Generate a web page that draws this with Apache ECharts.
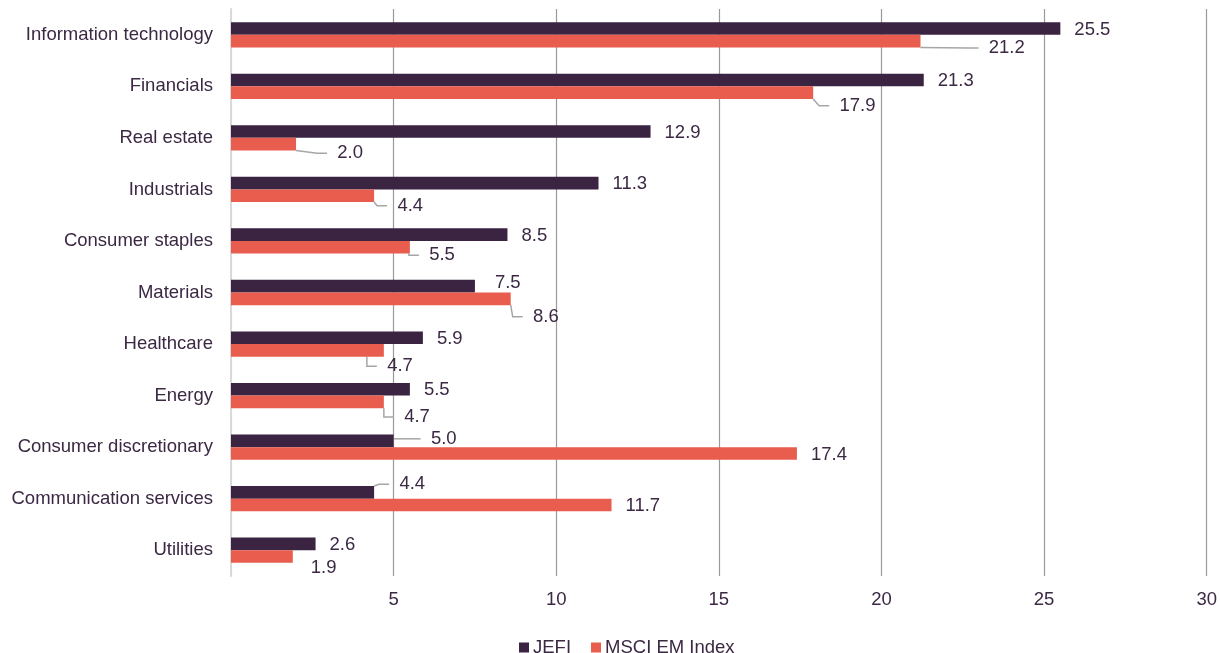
<!DOCTYPE html>
<html>
<head>
<meta charset="utf-8">
<script src="https://cdn.jsdelivr.net/npm/echarts@6/dist/echarts.min.js"></script>
<style>
html,body{margin:0;padding:0;background:#fff;}
#chart{width:1220px;height:653px;}
</style>
</head>
<body>
<div id="chart"></div>
<script>
const categories = ["Information technology","Financials","Real estate","Industrials","Consumer staples","Materials","Healthcare","Energy","Consumer discretionary","Communication services","Utilities"];
const jefi = [25.5, 21.3, 12.9, 11.3, 8.5, 7.5, 5.9, 5.5, 5.0, 4.4, 2.6];
const msci = [21.2, 17.9, 2.0, 4.4, 5.5, 8.6, 4.7, 4.7, 17.4, 11.7, 1.9];
const seriesNames = ["JEFI", "MSCI EM Index"];
const xTicks = [0, 5, 10, 15, 20, 25, 30];

// label displacement (layout only): [dx, dy, showLeader]
const jefiShift = {5: [6, -3, false], 8: [23, -2, true], 9: [11, -8, true]};
const msciShift = {0: [54, 7, true], 1: [12, 13, true], 2: [27, 9, true], 3: [9, 10, true], 4: [5, 8, true], 5: [8, 18, true], 6: [-11, 16, true], 7: [6, 15, true], 10: [4, 11, false]};
const leaderGap = 10; // width of the two leading spaces

const textColor = '#3b2843';
const font = 'Liberation Sans, Arial, sans-serif';
const fs = 18.5;

function buildData(vals, shifts) {
  return vals.map((v, i) => {
    const s = shifts[i];
    return {value: v, labelLine: {show: !!(s && s[2])}};
  });
}
function layoutFor(shifts) {
  return function (p) {
    const s = shifts[p.dataIndex];
    if (!s) return {dy: 1};
    return {dx: s[0] - (s[2] ? leaderGap : 0), dy: s[1]};
  };
}
function fmtFor(shifts) {
  return function (p) {
    const s = shifts[p.dataIndex];
    const t = p.value.toFixed(1);
    return (s && s[2]) ? '  ' + t : t;
  };
}

const chart = echarts.init(document.getElementById('chart'), null, {renderer: 'canvas'});
function labelFor(shifts) {
  return {
    show: true,
    position: 'right',
    distance: 14,
    color: textColor,
    fontSize: fs,
    fontFamily: font,
    formatter: fmtFor(shifts)
  };
}
const labelLineCommon = {
  lineStyle: {color: '#a6a6a6', width: 1.5},
  length2: 10
};

chart.setOption({
  animation: false,
  textStyle: {fontFamily: font},
  grid: {left: 231, right: 12, top: 9, bottom: 77, containLabel: false},
  legend: {
    data: seriesNames,
    left: 514, top: 633,
    itemWidth: 10, itemHeight: 10, itemGap: 20,
    icon: 'rect',
    textStyle: {color: textColor, fontSize: fs, fontFamily: font, padding: [0, 0, 0, -1]}
  },
  xAxis: {
    type: 'value',
    min: xTicks[0], max: xTicks[xTicks.length - 1], interval: 5,
    axisLine: {show: false},
    axisTick: {show: false},
    axisLabel: {
      color: textColor, fontSize: fs, fontFamily: font, margin: 14,
      formatter: v => (v === 0 ? '' : String(v))
    },
    splitLine: {show: true, lineStyle: {color: ['#d9d9d9', '#9a9a9a', '#9a9a9a', '#9a9a9a', '#9a9a9a', '#9a9a9a', '#9a9a9a'], width: 1.2}}
  },
  yAxis: {
    type: 'category',
    data: categories,
    inverse: true,
    axisLine: {show: true, lineStyle: {color: '#d9d9d9', width: 2}},
    axisTick: {show: false},
    axisLabel: {color: textColor, fontSize: fs, fontFamily: font, margin: 18}
  },
  series: [
    {
      name: seriesNames[0], type: 'bar',
      data: buildData(jefi, jefiShift),
      itemStyle: {color: '#3b2342'},
      barGap: '0%', barCategoryGap: '51%',
      label: labelFor(jefiShift),
      labelLine: labelLineCommon,
      labelLayout: layoutFor(jefiShift)
    },
    {
      name: seriesNames[1], type: 'bar',
      data: buildData(msci, msciShift),
      itemStyle: {color: '#e85d4e'},
      barGap: '0%', barCategoryGap: '51%',
      label: labelFor(msciShift),
      labelLine: labelLineCommon,
      labelLayout: layoutFor(msciShift)
    }
  ]
});
</script>
</body>
</html>
